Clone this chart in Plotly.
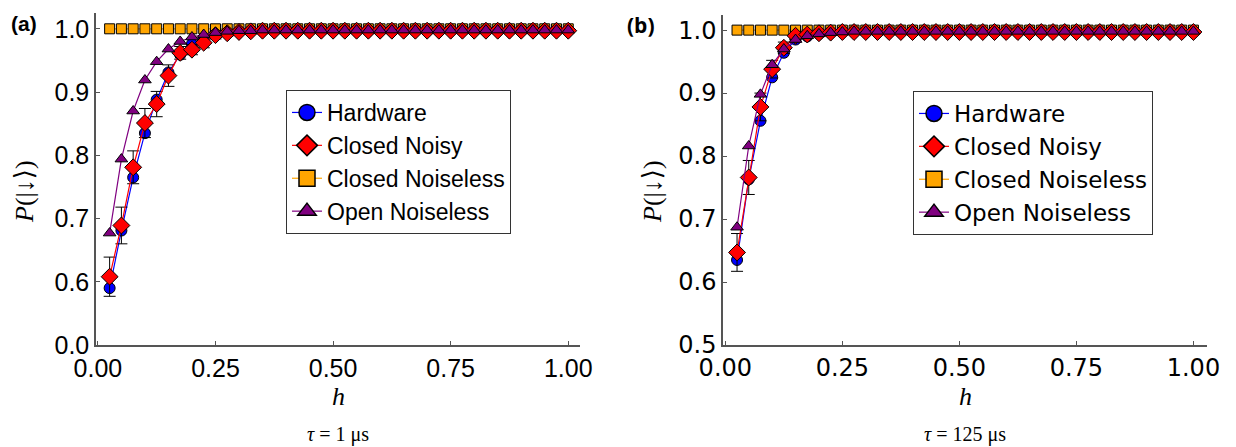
import plotly.graph_objects as go

# ---------------- data ----------------
h = [0.025, 0.05, 0.075, 0.1, 0.125, 0.15, 0.175, 0.2, 0.225, 0.25,
     0.275, 0.3, 0.325, 0.35, 0.375, 0.4, 0.425, 0.45, 0.475, 0.5,
     0.525, 0.55, 0.575, 0.6, 0.625, 0.65, 0.675, 0.7, 0.725, 0.75,
     0.775, 0.8, 0.825, 0.85, 0.875, 0.9, 0.925, 0.95, 0.975, 1.0]

# panel (a): tau = 1 us
hardware_a = [0.590, 0.681, 0.765, 0.835, 0.888, 0.931, 0.959, 0.976, 0.985, 0.991,
              0.994, 0.996, 0.997, 0.997, 0.998, 0.998, 0.998, 0.998, 0.998, 0.998,
              0.998, 0.998, 0.998, 0.998, 0.998, 0.998, 0.998, 0.998, 0.998, 0.998,
              0.998, 0.998, 0.998, 0.998, 0.998, 0.998, 0.998, 0.998, 0.998, 0.998]
noisy_a = [0.608, 0.689, 0.781, 0.851, 0.881, 0.926, 0.962, 0.967, 0.978, 0.990,
           0.993, 0.995, 0.996, 0.997, 0.997, 0.997, 0.997, 0.997, 0.997, 0.997,
           0.997, 0.997, 0.997, 0.997, 0.997, 0.997, 0.997, 0.997, 0.997, 0.997,
           0.997, 0.997, 0.997, 0.997, 0.997, 0.997, 0.997, 0.997, 0.997, 0.997]
noisy_err_a = [0.031, 0.029, 0.026, 0.023, 0.020, 0.017, 0.010, 0.008, 0.008, 0.006,
               0.005, 0.004, 0.004, 0.003, 0.003, 0.003, 0.003, 0.003, 0.003, 0.003,
               0.003, 0.003, 0.003, 0.003, 0.003, 0.003, 0.003, 0.003, 0.003, 0.003,
               0.003, 0.003, 0.003, 0.003, 0.003, 0.003, 0.003, 0.003, 0.003, 0.003]
noiseless_a = [1.0] * 40
open_a = [0.677, 0.794, 0.870, 0.919, 0.948, 0.968, 0.980, 0.987, 0.991, 0.994,
          0.996, 0.997, 0.997, 0.998, 0.998, 0.998, 0.998, 0.998, 0.998, 0.998,
          0.998, 0.998, 0.998, 0.998, 0.998, 0.998, 0.998, 0.998, 0.998, 0.998,
          0.998, 0.998, 0.998, 0.998, 0.998, 0.998, 0.998, 0.998, 0.998, 0.998]

# panel (b): tau = 125 us
hardware_b = [0.635, 0.763, 0.856, 0.925, 0.964, 0.985, 0.990, 0.994, 0.996, 0.997,
              0.998, 0.998, 0.998, 0.998, 0.998, 0.998, 0.998, 0.998, 0.998, 0.998,
              0.998, 0.998, 0.998, 0.998, 0.998, 0.998, 0.998, 0.998, 0.998, 0.998,
              0.998, 0.998, 0.998, 0.998, 0.998, 0.998, 0.998, 0.998, 0.998, 0.998]
noisy_b = [0.647, 0.766, 0.878, 0.938, 0.972, 0.991, 0.993, 0.995, 0.996, 0.997,
           0.997, 0.997, 0.997, 0.997, 0.997, 0.997, 0.997, 0.997, 0.997, 0.997,
           0.997, 0.997, 0.997, 0.997, 0.997, 0.997, 0.997, 0.997, 0.997, 0.997,
           0.997, 0.997, 0.997, 0.997, 0.997, 0.997, 0.997, 0.997, 0.997, 0.997]
noisy_err_b = [0.030, 0.027, 0.022, 0.014, 0.009, 0.006, 0.005, 0.004, 0.003, 0.003,
               0.003, 0.003, 0.003, 0.003, 0.003, 0.003, 0.003, 0.003, 0.003, 0.003,
               0.003, 0.003, 0.003, 0.003, 0.003, 0.003, 0.003, 0.003, 0.003, 0.003,
               0.003, 0.003, 0.003, 0.003, 0.003, 0.003, 0.003, 0.003, 0.003, 0.003]
noiseless_b = [1.0] * 40
open_b = [0.687, 0.816, 0.898, 0.945, 0.970, 0.985, 0.991, 0.994, 0.996, 0.997,
          0.998, 0.998, 0.998, 0.998, 0.998, 0.998, 0.998, 0.998, 0.998, 0.998,
          0.998, 0.998, 0.998, 0.998, 0.998, 0.998, 0.998, 0.998, 0.998, 0.998,
          0.998, 0.998, 0.998, 0.998, 0.998, 0.998, 0.998, 0.998, 0.998, 0.998]

series_names = ["Hardware", "Closed Noisy", "Closed Noiseless", "Open Noiseless"]
x_tick_vals = [0.0, 0.25, 0.5, 0.75, 1.0]
x_tick_text = ["0.00", "0.25", "0.50", "0.75", "1.00"]
y_tick_vals = [0.5, 0.6, 0.7, 0.8, 0.9, 1.0]
y_tick_text_a = ["0.0", "0.6", "0.7", "0.8", "0.9", "1.0"]
y_tick_text_b = ["0.5", "0.6", "0.7", "0.8", "0.9", "1.0"]
captions = ["τ = 1 μs", "τ = 125 μs"]
panel_labels = ["(a)", "(b)"]

# ---------------- styles ----------------
colors = {"Hardware": "#0000FF", "Closed Noisy": "#FF0000",
          "Closed Noiseless": "#FFA500", "Open Noiseless": "#800080"}
symbols = {"Hardware": "circle", "Closed Noisy": "diamond",
           "Closed Noiseless": "square", "Open Noiseless": "triangle-up"}
sizes = {"Hardware": 11, "Closed Noisy": 13, "Closed Noiseless": 10, "Open Noiseless": 11}
ranks = {"Hardware": 1, "Closed Noisy": 2, "Closed Noiseless": 3, "Open Noiseless": 4}

fig = go.Figure()

panels = [
    dict(xa="x", ya="y", legend="legend", tag="a",
         data={"Hardware": hardware_a, "Closed Noisy": noisy_a,
               "Closed Noiseless": noiseless_a, "Open Noiseless": open_a},
         err=noisy_err_a),
    dict(xa="x2", ya="y2", legend="legend2", tag="b",
         data={"Hardware": hardware_b, "Closed Noisy": noisy_b,
               "Closed Noiseless": noiseless_b, "Open Noiseless": open_b},
         err=noisy_err_b),
]

LINE_W = 1.2
draw_order = ["Closed Noiseless", "Hardware", "Closed Noisy", "Open Noiseless"]
for p in panels:
    for name in draw_order:
        kw = {}
        if name == "Closed Noisy":
            kw["error_y"] = dict(type="data", array=p["err"], visible=True, color="black",
                                 thickness=1, width=6)
        fig.add_trace(go.Scatter(
            x=h, y=p["data"][name], name=name, mode="lines+markers",
            line=dict(color=colors[name], width=LINE_W),
            marker=dict(symbol=symbols[name], size=sizes[name], color=colors[name],
                        line=dict(color="black", width=1)),
            xaxis=p["xa"], yaxis=p["ya"], showlegend=False,
            legendgroup=p["tag"] + name, **kw))
    # legend entries with large symbols (no data drawn)
    for name in series_names:
        fig.add_trace(go.Scatter(
            x=[None], y=[None], name=name, mode="lines+markers",
            line=dict(color=colors[name], width=LINE_W),
            marker=dict(symbol=symbols[name], size=30, color=colors[name],
                        line=dict(color="black", width=1.5)),
            xaxis=p["xa"], yaxis=p["ya"], legend=p["legend"],
            legendgroup=p["tag"] + name, legendrank=ranks[name], showlegend=True))

W, H = 1236, 447
OFF = 8  # page body margin offset


def px(x):
    return (x - OFF) / W


def py(y):
    return (H - (y - OFF)) / H


axis_common = dict(showgrid=False, zeroline=False, showline=True, linecolor="#555555",
                   linewidth=1.5, ticks="inside", ticklen=4, tickcolor="#555555",
                   mirror=False, automargin=False)

fig.update_layout(
    width=W, height=H,
    margin=dict(l=0, r=0, t=0, b=0, autoexpand=False),
    paper_bgcolor="white", plot_bgcolor="white",
    xaxis=dict(domain=[px(96), px(580)], range=[-0.004, 1.025],
               tickvals=x_tick_vals, ticktext=x_tick_text,
               tickfont=dict(family="Liberation Sans, Arial", size=25, color="black"),
               anchor="y", **axis_common),
    yaxis=dict(domain=[py(345), py(13)], range=[0.5, 1.025],
               tickvals=y_tick_vals, ticktext=y_tick_text_a,
               tickfont=dict(family="Liberation Sans, Arial", size=25, color="black"),
               anchor="x", **axis_common),
    xaxis2=dict(domain=[px(723), px(1207)], range=[-0.005, 1.029],
                tickvals=x_tick_vals, ticktext=x_tick_text,
                tickfont=dict(family="DejaVu Sans", size=24, color="black"),
                anchor="y2", **axis_common),
    yaxis2=dict(domain=[py(345), py(15)], range=[0.5, 1.024],
                tickvals=y_tick_vals, ticktext=y_tick_text_b,
                tickfont=dict(family="DejaVu Sans", size=24, color="black"),
                anchor="x2", **axis_common),
    legend=dict(x=px(286), y=py(90), xanchor="left", yanchor="top",
                bgcolor="white", bordercolor="#333333", borderwidth=1,
                font=dict(family="Liberation Sans, Arial", size=23, color="black"),
                itemsizing="trace", tracegroupgap=0, traceorder="normal",
                entrywidth=230, groupclick="toggleitem"),
    legend2=dict(x=px(913), y=py(91), xanchor="left", yanchor="top",
                 bgcolor="white", bordercolor="#333333", borderwidth=1,
                 font=dict(family="DejaVu Sans", size=23, color="black"),
                 itemsizing="trace", tracegroupgap=0, traceorder="normal",
                 entrywidth=230, groupclick="toggleitem"),
    showlegend=True,
)

# axis titles, captions and panel labels
serif = "Liberation Serif, DejaVu Serif, serif"
centers_x = [(96 + 580) / 2, (723 + 1207) / 2]
ytitle_x = [24, 652]
for i in range(2):
    fig.add_annotation(x=px(centers_x[i]), y=py(396), xref="paper", yref="paper",
                       xanchor="center", yanchor="middle",
                       text="<i>h</i>", showarrow=False,
                       font=dict(family=serif, size=26, color="black"))
    fig.add_annotation(x=px(centers_x[i]), y=py(434), xref="paper", yref="paper",
                       xanchor="center", yanchor="middle",
                       text=captions[i].replace("τ", "<i>τ</i>"), showarrow=False,
                       font=dict(family=serif, size=20, color="black"))
    fig.add_annotation(x=px(ytitle_x[i]), y=py(192), xref="paper", yref="paper",
                       xanchor="center", yanchor="middle",
                       text="<i>P</i>(|↓⟩)", showarrow=False, textangle=-90,
                       font=dict(family=serif, size=26, color="black"))
panel_label_x = [24, 641]
panel_label_y = [24, 25]
fonts_lab = ["Liberation Sans, Arial", "Open Sans, DejaVu Sans"]
for i in range(2):
    fig.add_annotation(x=px(panel_label_x[i]), y=py(panel_label_y[i]), xref="paper",
                       yref="paper", xanchor="center", yanchor="middle",
                       text="<b>" + panel_labels[i] + "</b>", showarrow=False,
                       font=dict(family=fonts_lab[i], size=21, color="black"))

fig.write_html("out.html")
